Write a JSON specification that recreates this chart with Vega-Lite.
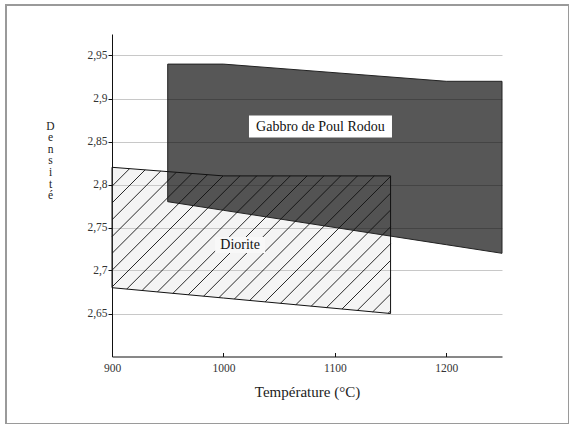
{
  "$schema": "https://vega.github.io/schema/vega-lite/v6.json",
  "autosize": "none",
  "padding": {"left": 6, "top": 5, "right": 0, "bottom": 0},
  "width": 563,
  "height": 419,
  "background": "#ffffff",
  "config": {
    "view": {"stroke": "#9a9a9a", "strokeWidth": 2},
    "font": "Liberation Serif"
  },
  "datasets": {
    "gabbro": [
      {"T": 950, "top": 2.94, "bot": 2.78},
      {"T": 1000, "top": 2.94, "bot": 2.77},
      {"T": 1200, "top": 2.92, "bot": 2.73},
      {"T": 1250, "top": 2.92, "bot": 2.72}
    ],
    "diorite": [
      {"T": 900, "top": 2.82, "bot": 2.68},
      {"T": 1000, "top": 2.81, "bot": 2.668},
      {"T": 1150, "top": 2.81, "bot": 2.65}
    ],
    "hatch": [
      {"T1": 900, "D1": 2.7980, "T2": 915.75, "D2": 2.8184},
      {"T1": 900, "D1": 2.7785, "T2": 929.74, "D2": 2.8170},
      {"T1": 900, "D1": 2.7590, "T2": 943.74, "D2": 2.8156},
      {"T1": 900, "D1": 2.7394, "T2": 957.73, "D2": 2.8142},
      {"T1": 900, "D1": 2.7199, "T2": 971.73, "D2": 2.8128},
      {"T1": 900, "D1": 2.7003, "T2": 985.73, "D2": 2.8114},
      {"T1": 900, "D1": 2.6808, "T2": 999.72, "D2": 2.8100},
      {"T1": 913.23, "D1": 2.6784, "T2": 1014.78, "D2": 2.81},
      {"T1": 927.02, "D1": 2.6768, "T2": 1029.86, "D2": 2.81},
      {"T1": 940.82, "D1": 2.6751, "T2": 1044.93, "D2": 2.81},
      {"T1": 954.62, "D1": 2.6734, "T2": 1060.01, "D2": 2.81},
      {"T1": 968.42, "D1": 2.6718, "T2": 1075.09, "D2": 2.81},
      {"T1": 982.22, "D1": 2.6701, "T2": 1090.16, "D2": 2.81},
      {"T1": 996.02, "D1": 2.6685, "T2": 1105.24, "D2": 2.81},
      {"T1": 1009.82, "D1": 2.6668, "T2": 1120.32, "D2": 2.81},
      {"T1": 1023.61, "D1": 2.6652, "T2": 1135.40, "D2": 2.81},
      {"T1": 1037.41, "D1": 2.6635, "T2": 1150, "D2": 2.8094},
      {"T1": 1051.22, "D1": 2.6619, "T2": 1150, "D2": 2.7899},
      {"T1": 1065.01, "D1": 2.6602, "T2": 1150, "D2": 2.7703},
      {"T1": 1078.81, "D1": 2.6585, "T2": 1150, "D2": 2.7508},
      {"T1": 1092.61, "D1": 2.6569, "T2": 1150, "D2": 2.7312},
      {"T1": 1106.41, "D1": 2.6552, "T2": 1150, "D2": 2.7117},
      {"T1": 1120.21, "D1": 2.6536, "T2": 1150, "D2": 2.6922},
      {"T1": 1134.0, "D1": 2.6519, "T2": 1150, "D2": 2.6726},
      {"T1": 1147.81, "D1": 2.6503, "T2": 1150, "D2": 2.6531}
    ],
    "gabbroLabel": [{"T": 1087.1, "D": 2.8674, "name": "Gabbro de Poul Rodou"}],
    "dioriteLabel": [{"T": 1015, "D": 2.7297, "name": "Diorite"}]
  },
  "layer": [
    {
      "data": {"name": "diorite"},
      "mark": {"type": "area", "fill": "#cfcfcf", "fillOpacity": 0.22, "stroke": null},
      "encoding": {
        "x": {
          "field": "T", "type": "quantitative",
          "scale": {"domain": [900, 1250], "range": [106, 496], "nice": false, "zero": false},
          "axis": {
            "title": "Température (°C)",
            "values": [900, 1000, 1100, 1200],
            "format": "d",
            "offset": -67.5,
            "grid": false,
            "domainColor": "#111",
            "tickColor": "#111",
            "tickSize": -4,
            "labelFont": "Liberation Serif",
            "labelFontSize": 11.5,
            "labelColor": "#333",
            "labelPadding": 10,
            "labelFlush": false,
            "titleFont": "Liberation Serif",
            "titleFontSize": 15,
            "titleFontWeight": "normal",
            "titleColor": "#222",
            "titleY": 40,
            "titleBaseline": "alphabetic"
          }
        },
        "y": {
          "field": "top", "type": "quantitative",
          "scale": {"domain": [2.6, 2.975], "range": [351.5, 29], "nice": false, "zero": false},
          "axis": {
            "title": ["D", "e", "n", "s", "i", "t", "é"],
            "values": [2.65, 2.7, 2.75, 2.8, 2.85, 2.9, 2.95],
            "labelExpr": "replace(format(datum.value, '.2~f'), '.', ',')",
            "offset": -106,
            "grid": true,
            "gridColor": "#c8c8c8",
            "gridWidth": 1,
            "domainColor": "#111",
            "tickColor": "#111",
            "tickSize": 4,
            "labelFont": "Liberation Serif",
            "labelFontSize": 11.5,
            "labelColor": "#333",
            "labelPadding": 1,
            "titleFont": "Liberation Serif",
            "titleFontSize": 11.5,
            "titleFontWeight": "normal",
            "titleColor": "#222",
            "titleAngle": 0,
            "titleAlign": "center",
            "titleBaseline": "alphabetic",
            "titleLineHeight": 11.6,
            "titleX": -62,
            "titleY": 124
          }
        },
        "y2": {"field": "bot"}
      }
    },
    {
      "data": {"name": "gabbro"},
      "mark": {"type": "area", "fill": "#000000", "fillOpacity": 0.66, "stroke": "#222", "strokeWidth": 1},
      "encoding": {
        "x": {"field": "T", "type": "quantitative"},
        "y": {"field": "top", "type": "quantitative"},
        "y2": {"field": "bot"}
      }
    },
    {
      "data": {"name": "hatch"},
      "mark": {"type": "rule", "color": "#111", "strokeWidth": 0.9},
      "encoding": {
        "x": {"field": "T1", "type": "quantitative"},
        "y": {"field": "D1", "type": "quantitative"},
        "x2": {"field": "T2"},
        "y2": {"field": "D2"}
      }
    },
    {
      "data": {"name": "diorite"},
      "mark": {"type": "area", "fillOpacity": 0, "stroke": "#111", "strokeWidth": 1},
      "encoding": {
        "x": {"field": "T", "type": "quantitative"},
        "y": {"field": "top", "type": "quantitative"},
        "y2": {"field": "bot"}
      }
    },
    {
      "data": {"name": "gabbroLabel"},
      "mark": {"type": "rect", "width": 143, "height": 22, "fill": "#ffffff"},
      "encoding": {
        "x": {"field": "T", "type": "quantitative"},
        "y": {"field": "D", "type": "quantitative"}
      }
    },
    {
      "data": {"name": "dioriteLabel"},
      "mark": {"type": "rect", "width": 50, "height": 16, "fill": "#f8f8f8"},
      "encoding": {
        "x": {"field": "T", "type": "quantitative"},
        "y": {"field": "D", "type": "quantitative"}
      }
    },
    {
      "data": {"name": "gabbroLabel"},
      "mark": {"type": "text", "font": "Liberation Serif", "fontSize": 14, "align": "center", "baseline": "middle", "color": "#111"},
      "encoding": {
        "x": {"field": "T", "type": "quantitative"},
        "y": {"field": "D", "type": "quantitative"},
        "text": {"field": "name"}
      }
    },
    {
      "data": {"name": "dioriteLabel"},
      "mark": {"type": "text", "font": "Liberation Serif", "fontSize": 14, "align": "center", "baseline": "middle", "color": "#111"},
      "encoding": {
        "x": {"field": "T", "type": "quantitative"},
        "y": {"field": "D", "type": "quantitative"},
        "text": {"field": "name"}
      }
    }
  ]
}
